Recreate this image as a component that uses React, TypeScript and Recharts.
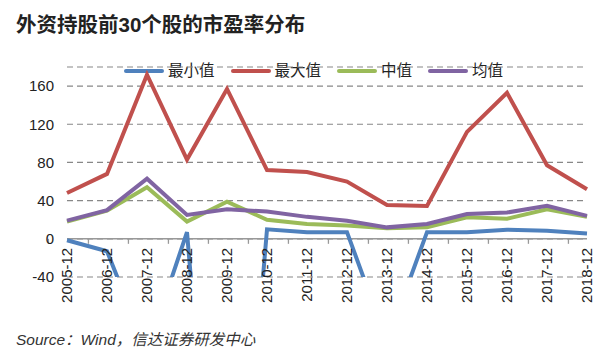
import React from "react";
import { LineChart, Line, XAxis, YAxis, CartesianGrid, ReferenceLine } from "recharts";

const categories = ["2005-12", "2006-12", "2007-12", "2008-12", "2009-12", "2010-12", "2011-12", "2012-12", "2013-12", "2014-12", "2015-12", "2016-12", "2017-12", "2018-12"];
const minValues = [-1.5, -13, -118, 7, -490, 10, 7, 7, -108, 7, 7, 9.5, 8.5, 5.5];
const maxValues = [48, 68, 172, 83, 157, 72, 70, 60, 35.5, 34.5, 112, 153, 77, 52];
const medianValues = [18, 29.5, 54, 18, 39, 20, 15.5, 14, 11, 12, 22.5, 21, 31, 23];
const meanValues = [19, 30, 63, 25, 31, 28.5, 23, 19, 12, 15.5, 26, 27.5, 34.5, 24];
const yTicks = [-40, 0, 40, 80, 120, 160];

const series = [
  { key: "min", name: "最小值", color: "#4F81BD", values: minValues },
  { key: "max", name: "最大值", color: "#C0504D", values: maxValues },
  { key: "median", name: "中值", color: "#9BBB59", values: medianValues },
  { key: "mean", name: "均值", color: "#8064A2", values: meanValues },
];

const data = categories.map((c, i) => {
  const row: any = { cat: c };
  series.forEach((s) => (row[s.key] = s.values[i]));
  return row;
});

const W = 600;
const H = 358;
const M = { top: 67, right: 13, left: 7, bottom: 80 };
const Y_AXIS_W = 60;
const X_AXIS_H = 1;
const DOMAIN: [number, number] = [-40, 180];
const PLOT_H = H - M.top - M.bottom - X_AXIS_H;
const PLOT_W = W - M.left - M.right - Y_AXIS_W;
const ZERO_Y = M.top + (PLOT_H * (DOMAIN[1] - 0)) / (DOMAIN[1] - DOMAIN[0]);
const BAND = PLOT_W / categories.length;
const FONT = "'Liberation Sans', Arial, 'Noto Sans CJK SC', sans-serif";

const XTick = (props: any) => {
  const { x, payload, index } = props;
  const last = index === categories.length - 1;
  return (
    <g>
      <line x1={x - BAND / 2} x2={x - BAND / 2} y1={ZERO_Y} y2={ZERO_Y + 5} stroke="#999" strokeWidth={1.3} />
      {last && <line x1={x + BAND / 2} x2={x + BAND / 2} y1={ZERO_Y} y2={ZERO_Y + 5} stroke="#999" strokeWidth={1.3} />}
      <text
        x={x}
        y={ZERO_Y + 9}
        transform={`rotate(-90, ${x}, ${ZERO_Y + 9})`}
        textAnchor="end"
        dominantBaseline="central"
        fontSize={15}
        fill="#222"
        fontFamily={FONT}
      >
        {payload.value}
      </text>
    </g>
  );
};

export default function App() {
  return (
    <div style={{ position: "absolute", left: 0, top: 0, width: W, height: H, background: "#fff", fontFamily: FONT }}>
      <div style={{ position: "absolute", left: 16, top: 13, fontSize: 20.5, lineHeight: "24px", fontWeight: "bold", color: "#222", whiteSpace: "nowrap" }}>
        外资持股前30个股的市盈率分布
      </div>
      <div style={{ position: "absolute", left: 124, top: 61, height: 20, display: "flex", alignItems: "center", fontSize: 15.5, lineHeight: "20px", color: "#222", whiteSpace: "nowrap" }}>
        {series.map((s) => (
          <div key={s.key} style={{ display: "flex", alignItems: "center", marginRight: 16 }}>
            <div style={{ width: 40, height: 4.5, borderRadius: 2.5, background: s.color, marginRight: 4 }} />
            <span>{s.name}</span>
          </div>
        ))}
      </div>
      <LineChart width={W} height={H} data={data} margin={M}>
        <CartesianGrid vertical={false} stroke="#888" strokeDasharray="6 4" strokeWidth={1.2} />
        <XAxis dataKey="cat" height={X_AXIS_H} axisLine={false} tickLine={false} tick={<XTick />} interval={0} />
        <YAxis
          width={Y_AXIS_W}
          domain={DOMAIN}
          ticks={yTicks}
          allowDataOverflow
          axisLine={false}
          tickLine={false}
          tickMargin={7}
          tick={{ fontSize: 15, fill: "#222", fontFamily: FONT }}
        />
        <ReferenceLine y={0} stroke="#999" strokeWidth={1.5} />
        {series.map((s) => (
          <Line
            key={s.key}
            type="linear"
            dataKey={s.key}
            name={s.name}
            stroke={s.color}
            strokeWidth={4}
            dot={false}
            isAnimationActive={false}
          />
        ))}
      </LineChart>
      <div style={{ position: "absolute", left: 16, top: 330, fontSize: 15.5, lineHeight: "20px", fontStyle: "italic", color: "#333", whiteSpace: "nowrap" }}>
        Source：Wind，信达证券研发中心
      </div>
    </div>
  );
}
